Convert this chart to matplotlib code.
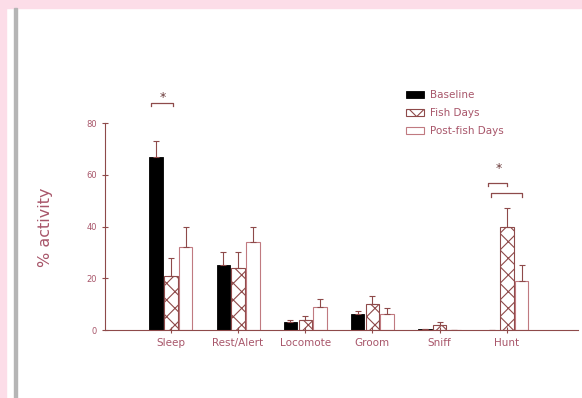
import matplotlib
matplotlib.use("Agg")
import matplotlib.pyplot as plt
from matplotlib.patches import Rectangle
import numpy as np

categories = ["Sleep", "Rest/Alert", "Locomote", "Groom", "Sniff", "Hunt"]
baseline = [67, 25, 3, 6, 0.5, 0]
baseline_err = [6, 5, 1, 1.5, 0, 0]
fish = [21, 24, 4, 10, 2, 40]
fish_err = [7, 6, 1.5, 3, 1, 7]
post = [32, 34, 9, 6, 0, 19]
post_err = [8, 6, 3, 2.5, 0, 6]
series_labels = ["Baseline", "Fish Days", "Post-fish Days"]

txt = "#a8566a"
axc = "#8e4a4a"

plt.rcParams['hatch.color'] = "#8e4a4a"
plt.rcParams['hatch.linewidth'] = 0.8

fig = plt.figure(figsize=(5.82, 3.98), dpi=100)
fig.patch.set_facecolor("white")
# pink frame and gray line
fig.patches.append(Rectangle((0, 1 - 8/398), 1, 8/398, transform=fig.transFigure, color="#fcdde8", zorder=0))
fig.patches.append(Rectangle((0, 0), 6/582, 1, transform=fig.transFigure, color="#fcdde8", zorder=0))
fig.patches.append(Rectangle((14/582, 0), 3/582, 1 - 8/398, transform=fig.transFigure, color="#b5b5b5", zorder=0))

ax = fig.add_axes([105/582, 68/398, (578-105)/582, (330-84.2)/398])
x = np.arange(len(categories))
w = 0.2
off = 0.22
ekw = dict(ecolor=axc, elinewidth=0.8, capsize=2.5, capthick=0.8)
lo = np.zeros(len(categories))
ax.bar(x - off, baseline, w, color="black", edgecolor="black", linewidth=0.6,
       yerr=[lo, baseline_err], error_kw=ekw, label=series_labels[0])
ax.bar(x, fish, w, color="white", edgecolor=axc, hatch="xx", linewidth=0.8,
       yerr=[lo, fish_err], error_kw=ekw, label=series_labels[1])
ax.bar(x + off, post, w, color="white", edgecolor="#c07a80", linewidth=0.8,
       yerr=[lo, post_err], error_kw=ekw, label=series_labels[2])

ax.set_xlim(-0.98, 6.06)
ax.set_ylim(0, 95)
for s in ["top", "right"]:
    ax.spines[s].set_visible(False)
ax.spines["left"].set_bounds(0, 80)
ax.spines["left"].set_color(axc)
ax.spines["bottom"].set_color(axc)
ax.spines["left"].set_linewidth(0.8)
ax.spines["bottom"].set_linewidth(0.8)
ax.set_yticks([0, 20, 40, 60, 80])
ax.tick_params(axis="y", direction="inout", length=5, colors=axc, labelsize=6, labelcolor=txt, width=0.8)
ax.set_xticks(x)
ax.set_xticklabels(categories)
ax.tick_params(axis="x", direction="inout", length=5, colors=axc, labelsize=7.5, labelcolor=txt, width=0.8)
ax.set_ylabel("% activity", color=txt, fontsize=11.5)
ax.yaxis.set_label_coords(-0.11, 0.42)

# significance marks
ax.plot([-0.3, -0.3, 0.03, 0.03], [86.5, 87.8, 87.8, 86.5], color=axc, lw=0.9)
ax.text(-0.12, 90, "*", ha="center", va="center", color="#6a3a3a", fontsize=9)
ax.plot([4.72, 4.72, 5.0, 5.0], [55.8, 56.9, 56.9, 55.8], color=axc, lw=0.9)
ax.plot([4.76, 4.76, 5.22, 5.22], [51.5, 52.9, 52.9, 51.5], color=axc, lw=0.9)
ax.text(4.88, 62.5, "*", ha="center", va="center", color="#6a3a3a", fontsize=9)

leg = ax.legend(loc="upper left", bbox_to_anchor=(397/582, 1 - 81/398), bbox_transform=fig.transFigure,
                frameon=False, fontsize=7.5, handlelength=1.7, handleheight=0.7, labelspacing=0.75,
                handletextpad=0.6)
for t in leg.get_texts():
    t.set_color(txt)

fig.savefig("out.png", dpi=100, facecolor="white")
